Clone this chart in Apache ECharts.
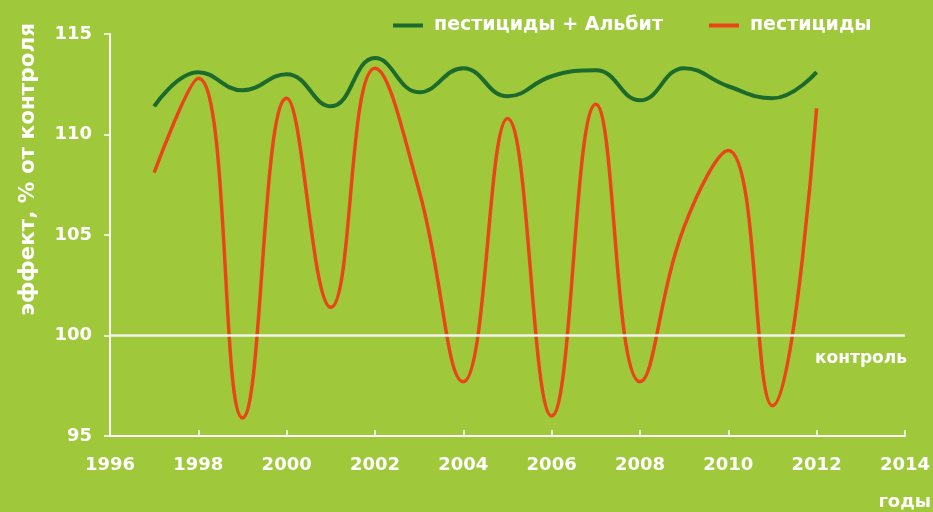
<!DOCTYPE html>
<html>
<head>
<meta charset="utf-8">
<script src="https://cdn.jsdelivr.net/npm/echarts@6/dist/echarts.min.js"></script>
<style>
  html, body { margin: 0; padding: 0; background: #9fc93a; }
  #chart { width: 933px; height: 512px; }
</style>
</head>
<body>
<div id="chart"></div>
<script>
const years = [1997, 1998, 1999, 2000, 2001, 2002, 2003, 2004, 2005, 2006, 2007, 2008, 2009, 2010, 2011, 2012]
const albitValues = [111.4, 113.1, 112.2, 113.0, 111.4, 113.8, 112.1, 113.3, 111.9, 112.9, 113.2, 111.7, 113.3, 112.4, 111.8, 113.1]
const pesticideValues = [108.1, 112.8, 95.9, 111.8, 101.4, 113.3, 107.2, 97.7, 110.8, 96.0, 111.5, 97.7, 105.4, 109.2, 96.5, 111.3]
const seriesNames = ['пестициды + Альбит', 'пестициды']
const controlLevel = 100

const white = '#ffffff'
const font = 'DejaVu Sans'

const chart = echarts.init(document.getElementById('chart'))
chart.setOption({
  backgroundColor: '#9fc93a',
  animation: false,
  textStyle: { fontFamily: font },
  grid: { left: 110, right: 28, top: 34, bottom: 76 },
  legend: {
    top: 11,
    left: 388,
    itemGap: 46,
    itemWidth: 30,
    itemHeight: 4,
    icon: 'rect',
    textStyle: { color: white, fontSize: 19, fontWeight: 'bold', fontFamily: font, padding: [0, 0, 0, 6] },
    data: seriesNames
  },
  xAxis: {
    type: 'value',
    min: 1996,
    max: 2014,
    interval: 2,
    axisLine: { lineStyle: { color: white, width: 2 } },
    axisTick: { show: true, inside: true, length: 6, lineStyle: { color: white, width: 1.5 } },
    axisLabel: { color: white, fontSize: 18, fontWeight: 'bold', margin: 20, formatter: v => String(v) },
    splitLine: { show: false }
  },
  yAxis: {
    type: 'value',
    min: 95,
    max: 115,
    interval: 5,
    axisLine: { show: true, lineStyle: { color: white, width: 2 } },
    axisTick: { show: true, length: 6, lineStyle: { color: white, width: 1.5 } },
    axisLabel: { color: white, fontSize: 18, fontWeight: 'bold', margin: 18 },
    splitLine: { show: false }
  },
  graphic: [
    {
      type: 'text',
      left: 17,
      top: 23,
      rotation: Math.PI / 2,
      style: {
        text: 'эффект, % от контроля',
        fill: white,
        font: 'bold 21.5px "DejaVu Sans"'
      }
    },
    {
      type: 'text',
      right: 2,
      bottom: 1,
      style: {
        text: 'годы',
        fill: white,
        font: 'bold 18px "DejaVu Sans"'
      }
    }
  ],
  series: [
    {
      name: seriesNames[0],
      type: 'line',
      smooth: 0.45,
      symbol: 'none',
      color: '#1d6b2c',
      lineStyle: { color: '#1d6b2c', width: 4 },
      data: years.map((y, i) => [y, albitValues[i]]),
      z: 3
    },
    {
      name: seriesNames[1],
      type: 'line',
      smooth: 0.45,
      symbol: 'none',
      color: '#ea4519',
      lineStyle: { color: '#ea4519', width: 3.5 },
      data: years.map((y, i) => [y, pesticideValues[i]]),
      markLine: {
        silent: true,
        symbol: 'none',
        lineStyle: { color: '#f2f2e8', width: 2.5, type: 'solid' },
        label: {
          show: true,
          position: 'insideEndBottom',
          formatter: 'контроль',
          color: white,
          fontSize: 17,
          fontWeight: 'bold',
          fontFamily: font,
          distance: [-2, 15]
        },
        data: [{ yAxis: controlLevel }]
      },
      z: 2
    }
  ]
})
</script>
</body>
</html>
